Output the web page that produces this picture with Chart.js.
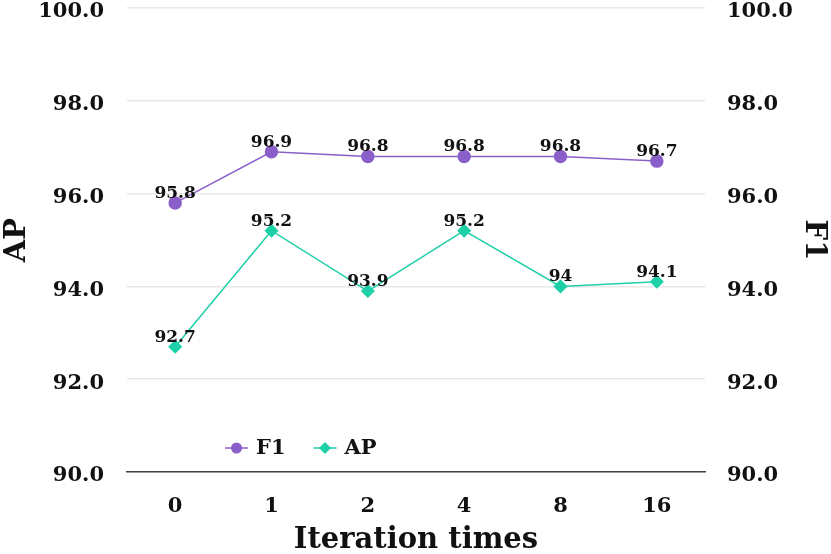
<!DOCTYPE html>
<html>
<head>
<meta charset="utf-8">
<script src="https://cdn.jsdelivr.net/npm/chart.js@4.4.1/dist/chart.umd.min.js"></script>
<style>
  html, body { margin: 0; padding: 0; background: #fff; }
  #wrap { width: 831px; height: 554px; }
</style>
</head>
<body>
<div id="wrap"><canvas id="grafico"></canvas></div>
<script>
// dados
const iteracoes = ['0', '1', '2', '4', '8', '16'];
const valoresF1 = [95.8, 96.9, 96.8, 96.8, 96.8, 96.7];
const valoresAP = [92.7, 95.2, 93.9, 95.2, 94, 94.1];

const corF1 = '#8b5fc9';
const corAP = '#1dd0a8';
const fonte = 'DejaVu Serif';

// rótulos acima dos pontos
const rotulos = {
  id: 'rotulos',
  afterDatasetsDraw(chart) {
    const ctx = chart.ctx;
    ctx.save();
    ctx.font = 'bold 17px "' + fonte + '"';
    ctx.fillStyle = '#111';
    ctx.textAlign = 'center';
    ctx.textBaseline = 'alphabetic';
    chart.data.datasets.forEach((ds, i) => {
      chart.getDatasetMeta(i).data.forEach((pt, j) => {
        ctx.fillText(String(ds.data[j]), pt.x, pt.y - 5);
      });
    });
    ctx.restore();
  }
};

// legenda dentro do gráfico
const legenda = {
  id: 'legenda',
  afterDraw(chart) {
    const ctx = chart.ctx;
    const area = chart.chartArea;
    const y = area.bottom - 24;
    let x = area.left + 98;
    ctx.save();
    ctx.font = 'bold 21px "' + fonte + '"';
    ctx.textBaseline = 'middle';
    chart.data.datasets.forEach(ds => {
      ctx.strokeStyle = ds.borderColor;
      ctx.lineWidth = 1.5;
      ctx.beginPath();
      ctx.moveTo(x, y);
      ctx.lineTo(x + 23, y);
      ctx.stroke();
      ctx.fillStyle = ds.borderColor;
      const mx = x + 11.5;
      if (ds.pointStyle === 'rectRot') {
        ctx.beginPath();
        ctx.moveTo(mx, y - 6);
        ctx.lineTo(mx + 6, y);
        ctx.lineTo(mx, y + 6);
        ctx.lineTo(mx - 6, y);
        ctx.closePath();
        ctx.fill();
      } else {
        ctx.beginPath();
        ctx.arc(mx, y, 5.5, 0, Math.PI * 2);
        ctx.fill();
      }
      ctx.fillStyle = '#111';
      ctx.fillText(ds.label, x + 31, y + 1);
      x += 31 + ctx.measureText(ds.label).width + 28;
    });
    ctx.restore();
  }
};

const tickFonte = { family: fonte, size: 21, weight: 'bold' };
const tituloFonte = { family: fonte, size: 29, weight: 'bold' };

new Chart(document.getElementById('grafico'), {
  type: 'line',
  data: {
    labels: iteracoes,
    datasets: [
      {
        label: 'F1',
        data: valoresF1,
        yAxisID: 'y1',
        borderColor: corF1,
        backgroundColor: corF1,
        borderWidth: 1.5,
        pointStyle: 'circle',
        pointRadius: 6,
        pointHoverRadius: 6,
        tension: 0
      },
      {
        label: 'AP',
        data: valoresAP,
        yAxisID: 'y',
        borderColor: corAP,
        backgroundColor: corAP,
        borderWidth: 1.5,
        pointStyle: 'rectRot',
        pointRadius: 6,
        pointHoverRadius: 6,
        tension: 0
      }
    ]
  },
  options: {
    responsive: true,
    maintainAspectRatio: false,
    animation: false,
    layout: { padding: { top: 8, bottom: 0, left: 0, right: 0 } },
    plugins: {
      legend: { display: false },
      tooltip: { enabled: false }
    },
    scales: {
      x: {
        offset: true,
        grid: { display: false, drawTicks: false },
        border: { display: true, color: '#444', width: 1.5 },
        ticks: { color: '#111', font: tickFonte, padding: 22 },
        title: { display: true, text: 'Iteration times', color: '#111', font: tituloFonte, padding: { top: 0, bottom: -4 } },
        afterFit(s) { s.height = 82; }
      },
      y: {
        position: 'left',
        min: 90,
        max: 100,
        ticks: { stepSize: 2, color: '#111', font: tickFonte, padding: 23, labelOffset: 4, callback: v => v.toFixed(1) },
        grid: { color: '#e8e8e8', lineWidth: 1.5, drawTicks: false },
        border: { display: false },
        title: { display: true, text: 'AP', color: '#111', font: tituloFonte, padding: 0 },
        afterFit(s) { s.width = 127; s.paddingTop = 0; s.paddingBottom = 0; }
      },
      y1: {
        position: 'right',
        min: 90,
        max: 100,
        ticks: { stepSize: 2, color: '#111', font: tickFonte, padding: 22, labelOffset: 4, callback: v => v.toFixed(1) },
        grid: { display: false, drawTicks: false },
        border: { display: false },
        title: { display: true, text: 'F1', color: '#111', font: tituloFonte, padding: 0 },
        afterFit(s) { s.width = 126; s.paddingTop = 0; s.paddingBottom = 0; }
      }
    }
  },
  plugins: [rotulos, legenda]
});
</script>
</body>
</html>
